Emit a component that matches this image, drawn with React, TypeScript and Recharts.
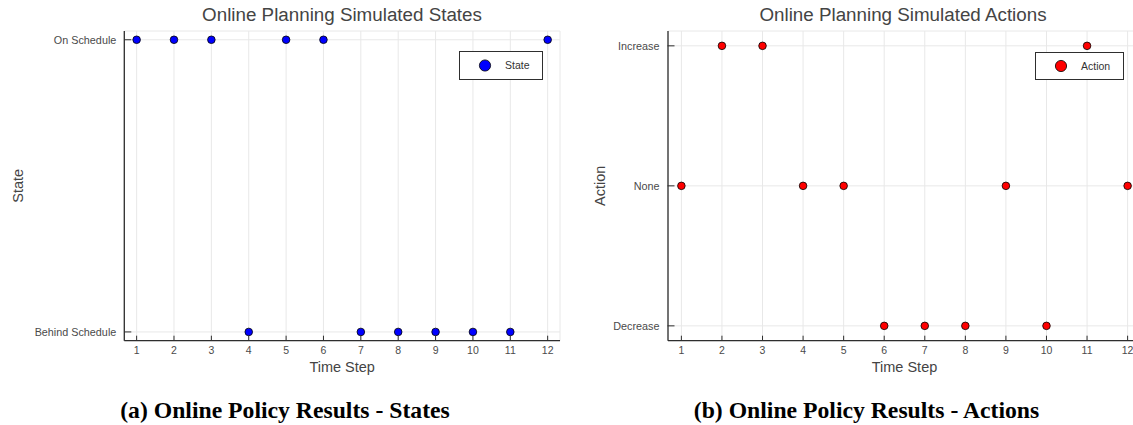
import React from 'react';
import { ScatterChart, Scatter, XAxis, YAxis, CartesianGrid, Legend, Label } from 'recharts';

// ---- data ----
const timeSteps = [1, 2, 3, 4, 5, 6, 7, 8, 9, 10, 11, 12];
const xTicks = [1, 2, 3, 4, 5, 6, 7, 8, 9, 10, 11, 12];

const stateCategories = ['Behind Schedule', 'On Schedule'];
const stateSeries = [
  'On Schedule', 'On Schedule', 'On Schedule', 'Behind Schedule', 'On Schedule', 'On Schedule',
  'Behind Schedule', 'Behind Schedule', 'Behind Schedule', 'Behind Schedule', 'Behind Schedule', 'On Schedule',
];

const actionCategories = ['Decrease', 'None', 'Increase'];
const actionSeries = [
  'None', 'Increase', 'Increase', 'None', 'None', 'Decrease',
  'Decrease', 'Decrease', 'None', 'Decrease', 'Increase', 'None',
];

const stateData = timeSteps.map((t, i) => ({ t, v: stateCategories.indexOf(stateSeries[i]) }));
const actionData = timeSteps.map((t, i) => ({ t, v: actionCategories.indexOf(actionSeries[i]) }));

// ---- styles ----
const FONT = '"Liberation Sans", Arial, Helvetica, sans-serif';
const AXIS = '#2e2e2e';
const GRID = '#e8e8e8';
const TICKTEXT = '#4a4a4a';
const LABEL = '#444444';

const makeYTick = (labels: string[]) => (props: any) => {
  const { x, y, payload } = props;
  const axisX = x + 8;
  return (
    <g>
      <line x1={axisX} x2={axisX + 7} y1={y} y2={y} stroke={AXIS} strokeWidth={1} />
      <text x={x} y={y} dy={3.8} textAnchor="end" fontSize={10.8} fill={TICKTEXT} fontFamily={FONT}>
        {labels[payload.value]}
      </text>
    </g>
  );
};

const XTick = (props: any) => {
  const { x, y, payload } = props;
  return (
    <g>
      <line x1={x} x2={x} y1={y} y2={y - 5} stroke={AXIS} strokeWidth={1} />
      <text x={x} y={y + 13} textAnchor="middle" fontSize={10.5} fill={TICKTEXT} fontFamily={FONT}>
        {payload.value}
      </text>
    </g>
  );
};

const makeLegend = (w: number, h: number, cx: number, tx: number) => (props: any) => {
  const item = (props.payload || [])[0] || {};
  return (
    <div
      style={{
        width: w, height: h, boxSizing: 'border-box', border: `1px solid ${AXIS}`, background: '#fff',
        position: 'relative', fontFamily: FONT,
      }}
    >
      <svg width={w} height={h} style={{ position: 'absolute', left: -1, top: -1 }}>
        <circle cx={cx} cy={h / 2} r={5.6} fill={item.color} stroke="#000" strokeWidth={0.8} />
      </svg>
      <span
        style={{
          position: 'absolute', left: tx, top: 0, lineHeight: `${h - 2}px`, fontSize: 10.5, color: '#333',
        }}
      >
        {item.value}
      </span>
    </div>
  );
};

const makeDot = (fill: string) => (props: any) => (
  <circle cx={props.cx} cy={props.cy} r={3.8} fill={fill} stroke="#000" strokeWidth={0.8} />
);

const yLabel = (text: string, dx: number) => (props: any) => {
  const vb = props.viewBox || { x: 0, y: 31, width: 0, height: 310 };
  const cy = vb.y + vb.height / 2;
  return (
    <text
      transform={`translate(${vb.x + dx}, ${cy}) rotate(-90)`}
      textAnchor="middle" dominantBaseline="central" fontSize={14.5} fill={LABEL} fontFamily={FONT}
    >
      {text}
    </text>
  );
};

const xLabel = (text: string) => (props: any) => {
  const vb = props.viewBox || { x: 0, y: 340, width: 400, height: 44 };
  return (
    <text
      x={vb.x + vb.width / 2} y={vb.y + 26.5} textAnchor="middle" dominantBaseline="central"
      fontSize={14.5} fill={LABEL} fontFamily={FONT}
    >
      {text}
    </text>
  );
};

const titleStyle = (cx: number): React.CSSProperties => ({
  position: 'absolute', left: cx - 250, width: 500, top: 4, textAlign: 'center', fontFamily: FONT,
  fontSize: 18.8, color: '#444', lineHeight: '22px', whiteSpace: 'nowrap',
});

const captionStyle = (cx: number): React.CSSProperties => ({
  position: 'absolute', left: cx - 300, width: 600, top: 396, textAlign: 'center',
  fontFamily: '"Liberation Serif", "Times New Roman", serif', fontWeight: 'bold', fontSize: 23.7,
  color: '#000', lineHeight: '28px', whiteSpace: 'nowrap',
});

export default function App() {
  return (
    <div style={{ position: 'fixed', left: 0, top: 0, width: 1133, height: 425, overflow: 'hidden', background: '#fff' }}>
      {/* Left chart */}
      <div style={{ position: 'absolute', left: 0, top: 0 }}>
        <ScatterChart width={570} height={385} margin={{ top: 31, right: 10, bottom: 0, left: 0 }}>
          <CartesianGrid stroke={GRID} strokeWidth={1} />
          <XAxis
            type="number" dataKey="t" domain={[0.67, 12.33]} ticks={xTicks} allowDataOverflow
            height={44.3} tickSize={0} tickMargin={0} tickLine={false} tick={<XTick />}
            axisLine={{ stroke: AXIS, strokeWidth: 1.3 }}
          >
            <Label content={xLabel('Time Step')} />
          </XAxis>
          <YAxis
            type="number" dataKey="v" domain={[-0.03, 1.03]} ticks={[0, 1]} allowDataOverflow
            width={124.3} tickSize={0} tickMargin={8} tickLine={false} tick={makeYTick(stateCategories)}
            axisLine={{ stroke: AXIS, strokeWidth: 1.3 }}
          >
            <Label content={yLabel('State', 17.5)} />
          </YAxis>
          <Legend
            layout="vertical" align="center" verticalAlign="middle"
            wrapperStyle={{ left: 459, top: 51, width: 84, height: 29 }}
            content={makeLegend(84, 29, 26, 45)}
          />
          <Scatter name="State" data={stateData} fill="#0000ff" shape={makeDot('#0000ff')} isAnimationActive={false} />
        </ScatterChart>
      </div>
      <div style={titleStyle(342)}>Online Planning Simulated States</div>

      {/* Right chart */}
      <div style={{ position: 'absolute', left: 570, top: 0 }}>
        <ScatterChart width={571} height={385} margin={{ top: 31, right: 0, bottom: 0, left: 0 }}>
          <CartesianGrid stroke={GRID} strokeWidth={1} />
          <XAxis
            type="number" dataKey="t" domain={[0.67, 12.33]} ticks={xTicks} allowDataOverflow
            height={44.3} tickSize={0} tickMargin={0} tickLine={false} tick={<XTick />}
            axisLine={{ stroke: AXIS, strokeWidth: 1.3 }}
          >
            <Label content={xLabel('Time Step')} />
          </XAxis>
          <YAxis
            type="number" dataKey="v" domain={[-0.106, 2.106]} ticks={[0, 1, 2]} allowDataOverflow
            width={98} tickSize={0} tickMargin={8.5} tickLine={false} tick={makeYTick(actionCategories)}
            axisLine={{ stroke: AXIS, strokeWidth: 1.3 }}
          >
            <Label content={yLabel('Action', 30)} />
          </YAxis>
          <Legend
            layout="vertical" align="center" verticalAlign="middle"
            wrapperStyle={{ left: 465, top: 52, width: 89, height: 28 }}
            content={makeLegend(89, 28, 26, 45)}
          />
          <Scatter name="Action" data={actionData} fill="#ff0000" shape={makeDot('#ff0000')} isAnimationActive={false} />
        </ScatterChart>
      </div>
      <div style={titleStyle(903)}>Online Planning Simulated Actions</div>

      <div style={captionStyle(285)}>(a) Online Policy Results - States</div>
      <div style={captionStyle(866.5)}>(b) Online Policy Results - Actions</div>
    </div>
  );
}
